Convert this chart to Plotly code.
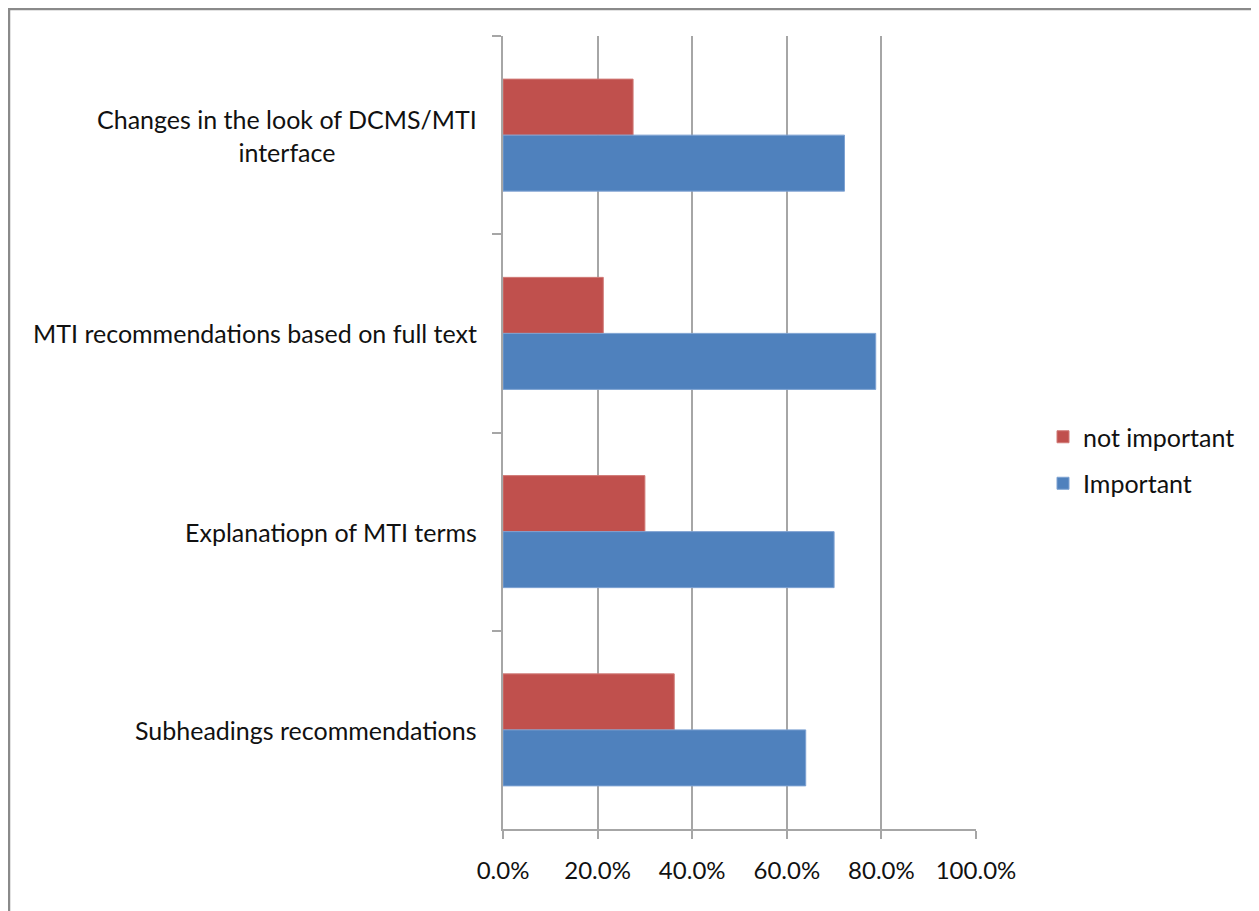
import plotly.graph_objects as go

categories = [
    "Changes in the look of DCMS/MTI<br>interface",
    "MTI recommendations based on full text",
    "Explanatiopn of MTI terms",
    "Subheadings recommendations",
]
not_important = [0.275, 0.212, 0.300, 0.362]
important = [0.722, 0.788, 0.700, 0.640]
x_ticks = [0, 0.2, 0.4, 0.6, 0.8, 1.0]

OFF = 8  # page body margin
W, H = 1259 - OFF, 911 - OFF
L, R, T, B = 503 - OFF, 976 - OFF, 36 - OFF, 829 - OFF
FONT = "Lato"
GRID = "#a6a6a6"
TXT = "#111111"

fig = go.Figure()
fig.add_trace(go.Bar(
    y=categories, x=not_important, orientation="h", name="not important",
    marker=dict(color="#C0504D", line=dict(color="#d07a77", width=1)),
))
fig.add_trace(go.Bar(
    y=categories, x=important, orientation="h", name="Important",
    marker=dict(color="#4F81BD", line=dict(color="#7ea2d2", width=1)),
))

def px_x(p):
    return (p - OFF - L) / (R - L)

def px_y(p):
    return (B - (p - OFF)) / (B - T)

# outer border
fig.add_shape(type="rect", xref="paper", yref="paper",
              x0=px_x(9), x1=px_x(1257), y0=px_y(925), y1=px_y(9),
              line=dict(color="#8a8a8a", width=2.5), fillcolor="rgba(0,0,0,0)")

for c in categories:
    fig.add_annotation(x=0, xref="paper", y=c, yref="y", text=c,
                       xanchor="right", yanchor="middle", align="center",
                       xshift=-24, showarrow=False,
                       font=dict(family=FONT, size=25, color=TXT))

fig.update_layout(
    width=W, height=H,
    margin=dict(l=L, r=W - R, t=T, b=H - B),
    paper_bgcolor="white", plot_bgcolor="white",
    barmode="group", bargap=0.435, bargroupgap=0,
    font=dict(family=FONT, size=25, color=TXT),
    showlegend=True,
    legend=dict(x=px_x(1043), xanchor="left", y=px_y(460), yanchor="middle",
                font=dict(family=FONT, size=25, color=TXT),
                tracegroupgap=11, bgcolor="rgba(0,0,0,0)"),
    xaxis=dict(range=[0, 1], tickvals=x_ticks, tickformat=".1%",
               showgrid=True, gridcolor=GRID, gridwidth=1.5,
               zeroline=False, showline=True, linecolor=GRID, linewidth=1.5,
               ticks="outside", ticklen=8, tickcolor=GRID, tickwidth=1.5,
               ticklabelstandoff=11,
               tickfont=dict(family=FONT, size=24, color=TXT)),
    yaxis=dict(autorange="reversed", showgrid=False, zeroline=False,
               showline=True, linecolor=GRID, linewidth=1.5,
               ticks="outside", ticklen=9, tickcolor=GRID, tickwidth=1.5,
               tickson="boundaries", showticklabels=False),
)
for i, tr in enumerate(fig.data):
    tr.legendgroup = f"g{i}"

fig.write_html("out.html")
